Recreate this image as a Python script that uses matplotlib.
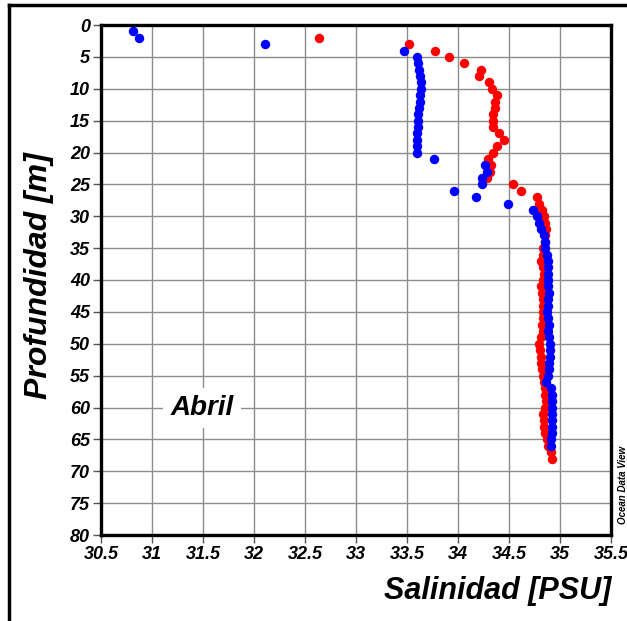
import numpy as np
import matplotlib.pyplot as plt
from matplotlib.lines import Line2D

plt.rcParams['font.family'] = ['Liberation Sans', 'DejaVu Sans']

# perfil rojo
prof_rojo = [2, 3, 4, 5, 6, 7, 8, 9, 10, 11, 12, 13, 14, 15, 16, 17, 18, 19, 20,
             21, 22, 23, 24, 25, 26, 27, 28, 29, 30, 31, 32, 33, 34, 35, 36, 37, 38,
             39, 40, 41, 42, 43, 44, 45, 46, 47, 48, 49, 50, 51, 52, 53, 54, 55, 56,
             57, 58, 59, 60, 61, 62, 63, 64, 65, 66, 67, 68]
sal_rojo = [32.64, 33.52, 33.77, 33.91, 34.06, 34.23, 34.21, 34.30, 34.33, 34.38,
            34.36, 34.36, 34.34, 34.34, 34.34, 34.40, 34.45, 34.38, 34.34, 34.29,
            34.32, 34.31, 34.28, 34.54, 34.62, 34.77, 34.79, 34.82, 34.84, 34.85,
            34.86, 34.85, 34.85, 34.83, 34.83, 34.81, 34.83, 34.84, 34.83, 34.81,
            34.82, 34.83, 34.83, 34.83, 34.83, 34.82, 34.83, 34.81, 34.79, 34.80,
            34.81, 34.81, 34.82, 34.83, 34.84, 34.85, 34.85, 34.86, 34.85, 34.83,
            34.84, 34.84, 34.85, 34.87, 34.88, 34.91, 34.92]

# perfil azul
prof_azul = [1, 2, 3, 4, 5, 6, 7, 8, 9, 10, 11, 12, 13, 14, 15, 16, 17, 18, 19, 20,
             21, 22, 23, 24, 25, 26, 27, 28, 29, 30, 31, 32, 33, 34, 35, 36, 37, 38,
             39, 40, 41, 42, 43, 44, 45, 46, 47, 48, 49, 50, 51, 52, 53, 54, 55, 56,
             57, 58, 59, 60, 61, 62, 63, 64, 65, 66]
sal_azul = [30.81, 30.87, 32.11, 33.47, 33.60, 33.61, 33.62, 33.63, 33.64, 33.64,
            33.63, 33.63, 33.62, 33.61, 33.61, 33.61, 33.60, 33.60, 33.60, 33.60,
            33.76, 34.26, 34.28, 34.24, 34.24, 33.96, 34.18, 34.49, 34.74, 34.77,
            34.79, 34.81, 34.84, 34.85, 34.85, 34.87, 34.88, 34.88, 34.88, 34.88,
            34.88, 34.89, 34.88, 34.88, 34.87, 34.88, 34.89, 34.88, 34.89, 34.90,
            34.90, 34.90, 34.89, 34.89, 34.88, 34.86, 34.91, 34.92, 34.92, 34.92,
            34.92, 34.92, 34.92, 34.92, 34.91, 34.91]

xticks = np.arange(30.5, 35.51, 0.5)
xlabels = ['30.5', '31', '31.5', '32', '32.5', '33', '33.5', '34', '34.5', '35', '35.5']
yticks = np.arange(0, 81, 5)

fig = plt.figure(figsize=(6.27, 6.21), dpi=100)
ax = fig.add_axes([101 / 627, 1 - 535 / 621, 510 / 627, 510 / 621])

ax.plot(sal_rojo, prof_rojo, 'o', color='#ff0000', markersize=6.8, markeredgewidth=0)
ax.plot(sal_azul, prof_azul, 'o', color='#0000ff', markersize=6.8, markeredgewidth=0)

ax.set_xlim(30.5, 35.5)
ax.set_ylim(80, 0)
ax.set_xticks(xticks)
ax.set_xticklabels(xlabels)
ax.set_yticks(yticks)
ax.grid(True, color='#8c8c8c', linewidth=1)
ax.set_axisbelow(True)
for s in ax.spines.values():
    s.set_linewidth(2.4)
ax.tick_params(direction='out', length=6, width=1, pad=2, color='#555555',
               top=False, right=False)
for lab in ax.get_xticklabels() + ax.get_yticklabels():
    lab.set_fontsize(13)
    lab.set_fontweight('bold')
    lab.set_fontstyle('italic')

fig.text(0.975, 0.035, 'Salinidad [PSU]', ha='right', va='baseline', fontsize=22,
         fontweight='bold', fontstyle='italic')
fig.text(0.062, 1 - 276 / 621, 'Profundidad [m]', rotation=90, ha='center', va='center',
         fontsize=23, fontweight='bold', fontstyle='italic')
ax.text(31.49, 60.1, 'Abril', ha='center', va='center', fontsize=20,
        fontweight='bold', fontstyle='italic',
        bbox=dict(facecolor='white', edgecolor='none', pad=5))
fig.text(0.993, 1 - 485 / 621, 'Ocean Data View', rotation=90, ha='center', va='center',
         fontsize=7, fontweight='bold', fontstyle='italic')

# marco exterior
fig.add_artist(Line2D([9 / 627, 1], [1 - 5 / 621, 1 - 5 / 621], color='black', linewidth=2.5))
fig.add_artist(Line2D([9 / 627, 9 / 627], [0, 1 - 5 / 621], color='black', linewidth=2.5))

fig.savefig('out.png', dpi=100)
